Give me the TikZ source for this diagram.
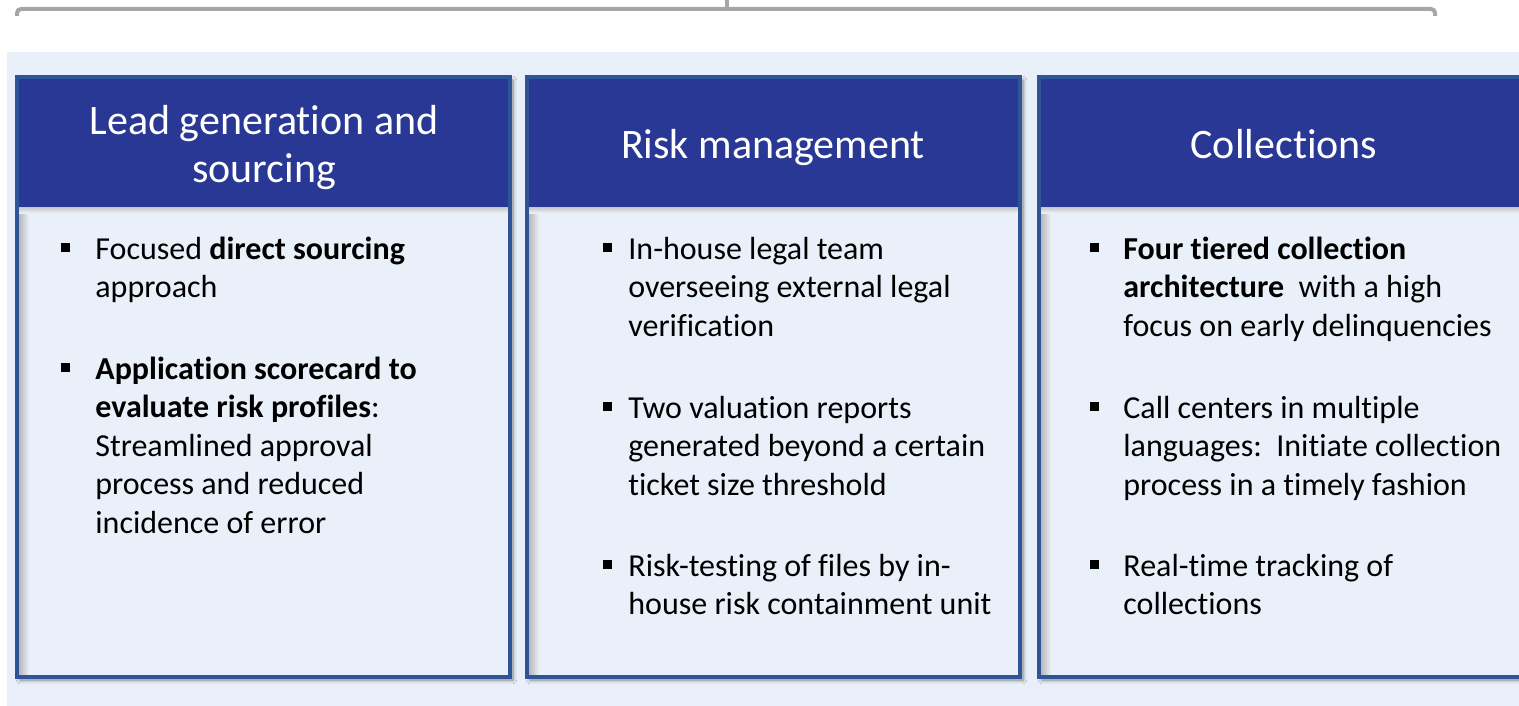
\documentclass[tikz,border=0pt]{standalone}
\usepackage{fontspec}
\setmainfont{Carlito}[Ligatures=NoCommon]
\usetikzlibrary{positioning,calc,shadows.blur}

\definecolor{headblue}{HTML}{2A3895}
\definecolor{frameblue}{HTML}{2F5597}
\definecolor{paleblue}{HTML}{E9F0F9}
\definecolor{bracketgray}{HTML}{A6A6A6}

\tikzset{
  panel/.style={fill=paleblue, blur shadow={shadow xshift=1.5pt, shadow yshift=-1.5pt, shadow blur steps=6, shadow opacity=45}},
  frame/.style={draw=frameblue, line width=2pt},
  headtxt/.style={text=white, font=\fontsize{21}{24}\selectfont, align=center, inner sep=0pt, anchor=base},
  itemtxt/.style={font=\fontsize{16}{19.25}\selectfont, align=left, inner sep=0pt, anchor=base west},
  bul/.style={fill=black, minimum size=4.5pt, inner sep=0pt},
}

\begin{document}
\begin{tikzpicture}[x=0.5pt,y=-0.5pt]
    \useasboundingbox (0,0) rectangle (1519,706);

    % Background and bracket on top
    \fill[paleblue] (7,52) rectangle (1519,706);
    \draw[bracketgray, line width=2pt, rounded corners=2pt] (17,16) -- (17,9) -- (1435,9) -- (1435,16);
    \draw[bracketgray, line width=2pt] (727,9) -- (727,0);

    % Three panels
    \foreach \xl/\xr in {17/510, 527/1020, 1039/1529} {
        \path[panel] (\xl,77) rectangle (\xr,677);
        \fill[headblue] (\xl,77) rectangle (\xr,207);
        \shade[left color=gray!55, right color=paleblue] (\xl+2,207) rectangle (\xl+12,675);
        \shade[top color=gray!45, bottom color=paleblue] (\xl+2,207) rectangle (\xr-2,213);
        \draw[frame] (\xl,77) rectangle (\xr,677);
    }

    % Headers (base = last line)
    \node[headtxt] (hdLead) at (264,182) {Lead generation and\\sourcing};
    \node[headtxt] (hdRisk) at (773,158) {Risk management};
    \node[headtxt] (hdColl) at (1284,158) {Collections};

    % Lead generation items
    \node[itemtxt] (i11) at (95,297.5) {Focused \textbf{direct sourcing}\\approach};
    \node[itemtxt] (i12) at (95,533) {\textbf{Application scorecard to}\\\textbf{evaluate risk profiles}:\\Streamlined approval\\process and reduced\\incidence of error};

    % Risk management items
    \node[itemtxt] (i21) at (628,336) {In-house legal team\\overseeing external legal\\verification};
    \node[itemtxt] (i22) at (628,495) {Two valuation reports\\generated beyond a certain\\ticket size threshold};
    \node[itemtxt] (i23) at (628,614.5) {Risk-testing of files by in-\\house risk containment unit};

    % Collections items
    \node[itemtxt] (i31) at (1123,336) {\textbf{Four tiered collection}\\\textbf{architecture}\ \ with a high\\focus on early delinquencies};
    \node[itemtxt] (i32) at (1123,495) {Call centers in multiple\\languages:\ \ Initiate collection\\process in a timely fashion};
    \node[itemtxt] (i33) at (1123,614.5) {Real-time tracking of\\collections};

    % Bullets, next to the first line of each item
    \foreach \it/\dx/\n in {i11/29.5/2, i12/29.5/5, i21/20.5/3, i22/20.5/3, i23/20.5/2, i31/29/3, i32/29/3, i33/29/2}
        \node[bul] (b\it) at ($(\it.base west)+(-\dx,{-11.5-(\n-1)*38.5})$) {};

\end{tikzpicture}
\end{document}
